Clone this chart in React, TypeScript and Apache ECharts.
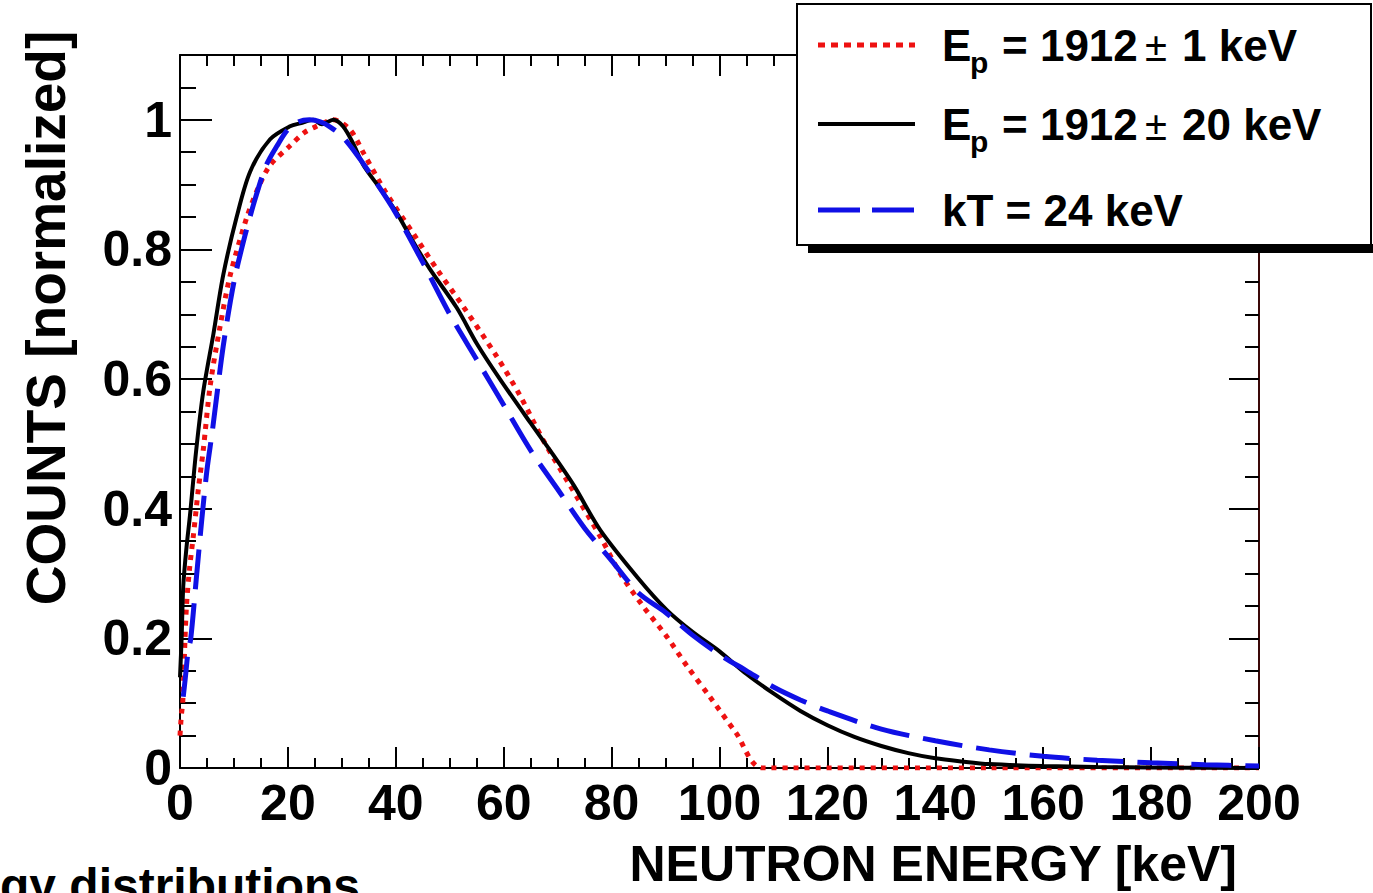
import React, { useEffect, useRef } from "react";
import * as echarts from "echarts";

// Ep = 1912 ± 1 keV (red, dotted)
const redE = [0, 0.15, 0.3, 0.5, 0.8, 1.2, 1.8, 2.5, 3.4, 4.3, 5.6, 7.4, 9.3, 12.4, 14.5, 16.7, 20.4, 23, 25.3, 28.4, 31.5, 34, 38, 43.2, 48, 52.5, 58.7, 63, 67.3, 72, 77.9, 81.6, 85.8, 90.2, 94, 98.2, 103, 108, 150, 200];
const redY = [0.05, 0.07, 0.085, 0.1, 0.17, 0.25, 0.31, 0.36, 0.43, 0.49, 0.59, 0.68, 0.76, 0.85, 0.895, 0.93, 0.96, 0.98, 0.99, 1.0, 0.985, 0.949, 0.89, 0.825, 0.765, 0.712, 0.635, 0.575, 0.506, 0.44, 0.357, 0.3, 0.25, 0.203, 0.157, 0.11, 0.055, 0.0, 0.0, 0.0];

// Ep = 1912 ± 20 keV (black, solid)
const blackE = [0, 0.3, 0.6, 1.2, 1.85, 3, 4.3, 6.2, 8, 10.5, 13, 16.7, 20.4, 22.5, 24.7, 26.3, 28.4, 30.2, 32, 34, 37, 40.2, 43, 46.3, 51.3, 55, 59.3, 65, 68.6, 73, 77.9, 85, 90.2, 95, 100, 105, 110, 115, 120, 125, 130, 135, 140, 145, 150, 160, 170, 180, 200];
const blackY = [0.14, 0.2, 0.28, 0.34, 0.39, 0.49, 0.58, 0.67, 0.76, 0.85, 0.92, 0.97, 0.99, 0.995, 1.0, 0.993, 1.0, 0.99, 0.965, 0.93, 0.895, 0.856, 0.815, 0.77, 0.71, 0.655, 0.6, 0.532, 0.49, 0.436, 0.367, 0.292, 0.244, 0.21, 0.18, 0.145, 0.115, 0.088, 0.066, 0.048, 0.034, 0.023, 0.015, 0.01, 0.006, 0.003, 0.0015, 0.0007, 0.0];

// kT = 24 keV (blue, dashed)
const blueE = [0.6, 1, 1.5, 2, 3, 4, 5, 6, 8, 10, 12, 14, 16, 18, 20, 22, 24, 26, 28, 30, 32, 35, 40, 45, 50, 55, 60, 65, 70, 75, 80, 85, 90, 95, 100, 105, 110, 115, 120, 130, 140, 150, 160, 170, 180, 190, 200];
const blueY = [0.11, 0.14, 0.18, 0.2, 0.29, 0.38, 0.46, 0.52, 0.65, 0.75, 0.82, 0.88, 0.93, 0.96, 0.985, 0.997, 1.0, 0.997, 0.988, 0.975, 0.955, 0.92, 0.856, 0.78, 0.7, 0.63, 0.56, 0.49, 0.43, 0.37, 0.32, 0.27, 0.24, 0.205, 0.175, 0.15, 0.125, 0.105, 0.088, 0.06, 0.042, 0.028, 0.018, 0.012, 0.008, 0.005, 0.003];

const xTickLabels = ["0", "20", "40", "60", "80", "100", "120", "140", "160", "180", "200"];
const yTickLabels = ["0", "0.2", "0.4", "0.6", "0.8", "1"];

const legendLabels = [
  { sym: "E", sub: "p", mid: "= 1912", pm: "±", tail: "1 keV" },
  { sym: "E", sub: "p", mid: "= 1912", pm: "±", tail: "20 keV" },
];
const legendThird = "kT = 24 keV";

const xTitle = "NEUTRON ENERGY [keV]";
const yTitle = "COUNTS [normalized]";
const caption = "energy distributions";

const FONT = "'Liberation Sans', Arial, Helvetica, sans-serif";

function zip(a: number[], b: number[]) {
  return a.map((v, i) => [v, b[i]]);
}

export default function App() {
  const ref = useRef<HTMLDivElement>(null);
  useEffect(() => {
    if (!ref.current) return;
    const chart = echarts.init(ref.current, undefined, { renderer: "svg" });
    const tickLine = { color: "#000", width: 2 };
    const noLabel = { show: false };
    const xLabelFmt = (v: number) => {
      const s = String(Math.round(v));
      return xTickLabels.includes(s) && Math.abs(v % 20) < 1e-6 ? s : "";
    };
    const yLabelFmt = (v: number) => {
      const r = Math.round(v * 100) / 100;
      if (Math.abs(r * 5 - Math.round(r * 5)) > 1e-6) return "";
      const s = String(Math.round(r * 10) / 10);
      return yTickLabels.includes(s) ? s : "";
    };
    const base = { type: "value" as const, splitLine: { show: false } };
    const lineOn = (color: string) => ({ show: true, onZero: false, lineStyle: { color, width: 2 } });
    const lineOff = { show: false, onZero: false };
    const legendX0 = 818;
    const legendX1 = 915;
    const rows = [45, 124, 210];
    const graphics: any[] = [
      {
        type: "text",
        x: 46,
        y: 318,
        rotation: Math.PI / 2,
        style: { text: yTitle, fontSize: 55, fontWeight: "bold", fontFamily: FONT, fill: "#000", align: "center", verticalAlign: "middle" },
      },
      {
        type: "text",
        x: 1237,
        y: 864,
        style: { text: xTitle, fontSize: 50, fontWeight: "bold", fontFamily: FONT, fill: "#000", align: "right", verticalAlign: "middle" },
      },
      {
        type: "text",
        x: 360,
        y: 861,
        style: { text: caption, fontSize: 48, fontWeight: "bold", fontFamily: FONT, fill: "#000", align: "right", verticalAlign: "top" },
      },
      { type: "rect", z: 100, shape: { x: 808, y: 244, width: 570, height: 9 }, style: { fill: "#000" } },
      { type: "rect", z: 101, shape: { x: 797, y: 4, width: 574, height: 241 }, style: { fill: "#fff", stroke: "#000", lineWidth: 2 } },
      { type: "line", z: 102, shape: { x1: legendX0, y1: rows[0], x2: legendX1, y2: rows[0] }, style: { stroke: "#ee1111", lineWidth: 5, lineDash: [7, 6] } },
      { type: "line", z: 102, shape: { x1: legendX0, y1: rows[1], x2: legendX1, y2: rows[1] }, style: { stroke: "#000", lineWidth: 4 } },
      { type: "line", z: 102, shape: { x1: legendX0, y1: rows[2], x2: legendX1, y2: rows[2] }, style: { stroke: "#1010e6", lineWidth: 5, lineDash: [42, 12] } },
    ];
    legendLabels.forEach((l, i) => {
      const y = rows[i];
      const st = { fontWeight: "bold", fontFamily: FONT, fill: "#000", verticalAlign: "middle", align: "left" };
      graphics.push({ type: "text", z: 103, x: 942, y, style: { ...st, text: l.sym, fontSize: 44 } });
      graphics.push({ type: "text", z: 103, x: 970, y: y + 17, style: { ...st, text: l.sub, fontSize: 30 } });
      graphics.push({ type: "text", z: 103, x: 1002, y, style: { ...st, text: l.mid, fontSize: 44 } });
      graphics.push({ type: "text", z: 103, x: 1145, y: y + 2, style: { ...st, fontWeight: "normal", text: l.pm, fontSize: 40 } });
      graphics.push({ type: "text", z: 103, x: 1182, y, style: { ...st, text: l.tail, fontSize: 44 } });
    });
    graphics.push({
      type: "text",
      z: 103,
      x: 942,
      y: rows[2],
      style: { text: legendThird, fontSize: 44, fontWeight: "bold", fontFamily: FONT, fill: "#000", verticalAlign: "middle", align: "left" },
    });

    chart.setOption({
      animation: false,
      backgroundColor: "#fff",
      grid: { left: 180, right: 114, top: 55, bottom: 125, containLabel: false },
      xAxis: [
        {
          ...base, min: 0, max: 200, interval: 5, position: "bottom",
          axisLine: lineOn("#000"),
          axisTick: { show: true, inside: true, length: 10, lineStyle: tickLine },
          axisLabel: { show: true, formatter: xLabelFmt, fontSize: 50, fontWeight: "bold", fontFamily: FONT, color: "#000", margin: 10 },
        },
        {
          ...base, min: 0, max: 200, interval: 20, position: "bottom",
          axisLine: lineOff,
          axisTick: { show: true, inside: true, length: 21, lineStyle: tickLine },
          axisLabel: noLabel,
        },
        {
          ...base, min: 0, max: 200, interval: 5, position: "top",
          axisLine: lineOn("#000"),
          axisTick: { show: true, inside: true, length: 11, lineStyle: tickLine },
          axisLabel: noLabel,
        },
        {
          ...base, min: 0, max: 200, interval: 20, position: "top",
          axisLine: lineOff,
          axisTick: { show: true, inside: true, length: 21, lineStyle: tickLine },
          axisLabel: noLabel,
        },
      ],
      yAxis: [
        {
          ...base, min: 0, max: 1.1, interval: 0.05, position: "left",
          axisLine: lineOn("#000"),
          axisTick: { show: true, inside: true, length: 16, lineStyle: tickLine },
          axisLabel: { show: true, formatter: yLabelFmt, fontSize: 50, fontWeight: "bold", fontFamily: FONT, color: "#000", margin: 8 },
        },
        {
          ...base, min: 0, max: 1.1, interval: 0.2, position: "left",
          axisLine: lineOff,
          axisTick: { show: true, inside: true, length: 32, lineStyle: tickLine },
          axisLabel: noLabel,
        },
        {
          ...base, min: 0, max: 1.1, interval: 0.05, position: "right",
          axisLine: lineOn("#3a0808"),
          axisTick: { show: true, inside: true, length: 14, lineStyle: tickLine },
          axisLabel: noLabel,
        },
        {
          ...base, min: 0, max: 1.1, interval: 0.2, position: "right",
          axisLine: lineOff,
          axisTick: { show: true, inside: true, length: 30, lineStyle: tickLine },
          axisLabel: noLabel,
        },
      ],
      series: [
        {
          name: "Ep = 1912 ± 1 keV",
          type: "line",
          data: zip(redE, redY),
          showSymbol: false,
          smooth: 0.3,
          lineStyle: { color: "#ee1111", width: 5, type: [5, 6] },
          z: 3,
        },
        {
          name: "Ep = 1912 ± 20 keV",
          type: "line",
          data: zip(blackE, blackY),
          showSymbol: false,
          smooth: 0.3,
          lineStyle: { color: "#000", width: 4 },
          z: 4,
        },
        {
          name: "kT = 24 keV",
          type: "line",
          data: zip(blueE, blueY),
          showSymbol: false,
          smooth: 0.3,
          lineStyle: { color: "#1010e6", width: 5, type: [40, 14] },
          z: 5,
        },
      ],
      graphic: graphics,
    });
    return () => chart.dispose();
  }, []);
  return <div ref={ref} style={{ position: "fixed", left: 0, top: 0, width: 1373, height: 893 }} />;
}
